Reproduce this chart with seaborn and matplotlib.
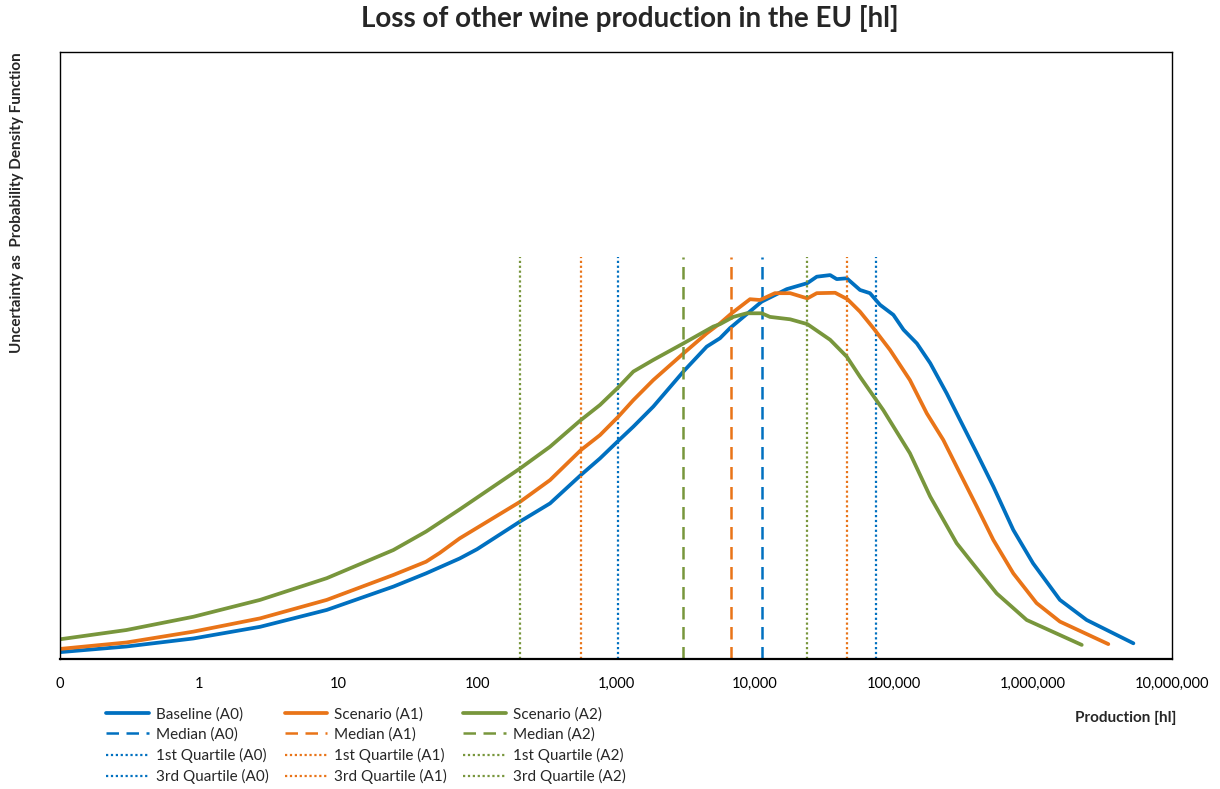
import numpy as np
import pandas as pd
import matplotlib
matplotlib.use("Agg")
import matplotlib.pyplot as plt
from matplotlib.ticker import FixedLocator, FuncFormatter, LogLocator, NullFormatter
import seaborn as sns

# Production [hl] sample points and density heights (arbitrary units) per scenario
prod_a0 = [0.1, 0.30, 0.91, 2.75, 8.3, 25, 43, 75, 100, 204, 335, 560, 767, 1040, 1332,
           1855, 3050, 4490, 5600, 6600, 11170, 16900, 23800, 27800, 34700, 38700, 45700,
           56900, 67100, 79300, 98900, 117000, 146000, 182000, 239000, 298000, 394000,
           518000, 721000, 1000000, 1560000, 2430000, 5270000]
dens_a0 = [0.017, 0.031, 0.051, 0.080, 0.122, 0.180, 0.213, 0.250, 0.273, 0.342, 0.387,
           0.458, 0.499, 0.543, 0.578, 0.628, 0.715, 0.777, 0.798, 0.823, 0.889, 0.920,
           0.935, 0.951, 0.955, 0.945, 0.947, 0.918, 0.910, 0.881, 0.856, 0.819, 0.785,
           0.736, 0.661, 0.595, 0.512, 0.429, 0.321, 0.238, 0.147, 0.097, 0.039]

prod_a1 = [0.1, 0.30, 0.91, 2.75, 8.3, 25, 43, 54, 75, 204, 335, 560, 767, 1040, 1332,
           1855, 3050, 4490, 5600, 6790, 9200, 10860, 13900, 17900, 23800, 27800, 37700,
           46200, 56900, 71000, 93500, 130000, 172000, 226000, 298000, 394000, 518000,
           721000, 1060000, 1560000, 3480000]
dens_a1 = [0.025, 0.041, 0.068, 0.101, 0.147, 0.209, 0.242, 0.264, 0.300, 0.391, 0.445,
           0.520, 0.557, 0.603, 0.644, 0.694, 0.760, 0.810, 0.835, 0.860, 0.895, 0.893,
           0.910, 0.910, 0.897, 0.910, 0.911, 0.895, 0.864, 0.823, 0.769, 0.694, 0.611,
           0.545, 0.462, 0.379, 0.296, 0.213, 0.139, 0.093, 0.037]

prod_a2 = [0.1, 0.30, 0.91, 2.75, 8.3, 25, 43, 75, 204, 335, 552, 767, 1040, 1332, 1855,
           3050, 5010, 5600, 6980, 8710, 11170, 12800, 17900, 23800, 34700, 45700, 56900,
           83700, 130000, 182000, 282000, 352000, 548000, 900000, 2240000]
dens_a2 = [0.049, 0.072, 0.105, 0.147, 0.201, 0.271, 0.317, 0.372, 0.474, 0.528, 0.593,
           0.632, 0.676, 0.715, 0.744, 0.785, 0.827, 0.833, 0.851, 0.860, 0.860, 0.851,
           0.845, 0.833, 0.794, 0.752, 0.702, 0.619, 0.512, 0.404, 0.288, 0.246, 0.163,
           0.097, 0.035]

scenarios = ["A0", "A1", "A2"]
series_names = ["Baseline (A0)", "Scenario (A1)", "Scenario (A2)"]
medians = [11200, 6700, 3030]
quartile1 = [1030, 560, 204]
quartile3 = [74000, 46000, 23700]
marker_height = 1.0

tick_values = [0.1, 1, 10, 100, 1e3, 1e4, 1e5, 1e6, 1e7]

colors = ["#0070C0", "#E97418", "#78963C"]

sns.set_style("white")
plt.rcParams["font.family"] = ["Lato", "DejaVu Sans"]

fig = plt.figure(figsize=(12.2, 7.89), dpi=100)
ax = fig.add_axes([0.0492, 0.1648, 0.9115, 0.7693])

curves = [(prod_a0, dens_a0), (prod_a1, dens_a1), (prod_a2, dens_a2)]
handles = []
for i, (sc, name) in enumerate(zip(scenarios, series_names)):
    df = pd.DataFrame({"production": curves[i][0], "density": curves[i][1]})
    sns.lineplot(data=df, x="production", y="density", ax=ax, color=colors[i],
                 linewidth=2.7, estimator=None, sort=False, label=name, legend=False)
    handles.append(ax.lines[-1])
    h, = ax.plot([medians[i], medians[i]], [0, marker_height], color=colors[i],
                 linewidth=1.8, linestyle=(0, (5, 3)), label=f"Median ({sc})")
    handles.append(h)
    h, = ax.plot([quartile1[i], quartile1[i]], [0, marker_height], color=colors[i],
                 linewidth=1.6, linestyle=(0, (1, 1.2)), label=f"1st Quartile ({sc})")
    handles.append(h)
    h, = ax.plot([quartile3[i], quartile3[i]], [0, marker_height], color=colors[i],
                 linewidth=1.6, linestyle=(0, (1, 1.2)), label=f"3rd Quartile ({sc})")
    handles.append(h)

ax.set_xscale("log")
ax.set_xlim(0.1, 1e7)
ax.set_ylim(0, 1.51)
ax.xaxis.set_major_locator(FixedLocator(tick_values))
ax.xaxis.set_major_formatter(FuncFormatter(lambda v, p: f"{v:,.0f}"))
ax.xaxis.set_minor_locator(LogLocator(base=10, subs=np.arange(2, 10), numticks=20))
ax.xaxis.set_minor_formatter(NullFormatter())
ax.tick_params(axis="x", which="major", direction="inout", length=8, width=1.2,
               labelsize=10.5, pad=9, colors="black")
ax.tick_params(axis="x", which="minor", direction="in", length=4, width=1.0,
               colors="black")
ax.set_yticks([])
ax.set_xlabel("")
ax.set_ylabel("")
for s in ax.spines.values():
    s.set_visible(True)
    s.set_color("black")
    s.set_linewidth(1.0)
ax.spines["bottom"].set_linewidth(1.6)

fig.text(0.516, 0.977, "Loss of other wine production in the EU [hl]", ha="center",
         va="center", fontsize=20, fontweight="bold")
fig.text(0.014, 0.934, "Uncertainty as  Probability Density Function", rotation=90,
         ha="center", va="top", fontsize=11, fontweight="bold")
fig.text(0.964, 0.090, "Production [hl]", ha="right", va="center", fontsize=11,
         fontweight="bold")

fig.legend(handles=handles, labels=[h.get_label() for h in handles], ncol=3,
           loc="upper left", bbox_to_anchor=(0.087, 0.1040), frameon=False,
           fontsize=11, handlelength=2.8, handletextpad=0.45, columnspacing=1.05,
           labelspacing=0.40, borderpad=0, borderaxespad=0)

fig.savefig("out.png", dpi=100, facecolor="white")
